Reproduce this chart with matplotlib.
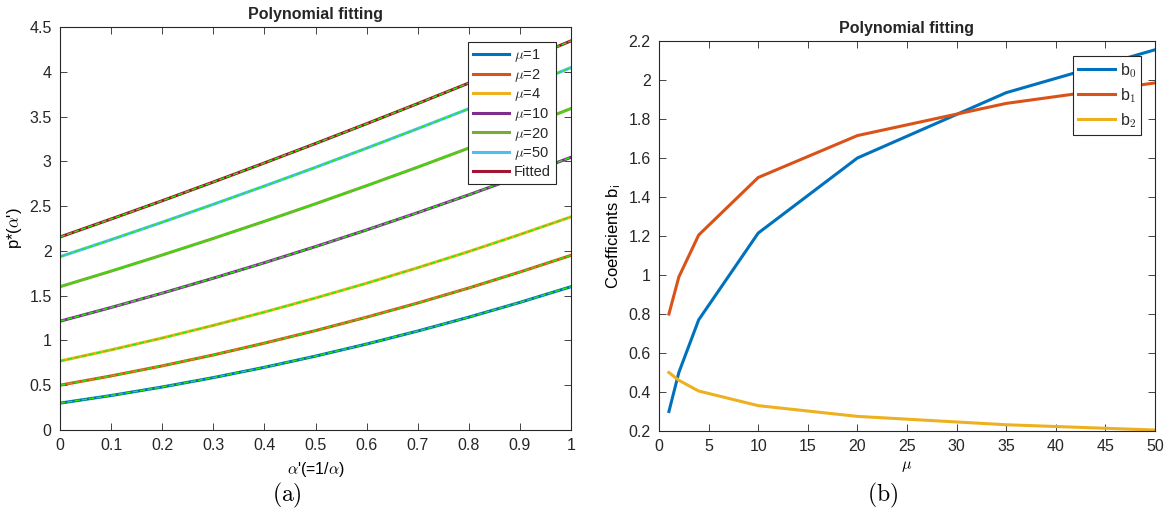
import numpy as np
import matplotlib
matplotlib.use("Agg")
import matplotlib.pyplot as plt
from matplotlib.ticker import FuncFormatter

plt.rcParams["font.family"] = ["Liberation Sans", "DejaVu Sans"]
plt.rcParams["mathtext.fontset"] = "cm"
plt.rcParams["text.color"] = "#262626"
plt.rcParams["axes.edgecolor"] = "#262626"
plt.rcParams["xtick.color"] = "#262626"
plt.rcParams["ytick.color"] = "#262626"

# MATLAB default line colours
COLORS = ["#0072BD", "#D95319", "#EDB120", "#7E2F8E", "#77AC30", "#4DBEEE", "#A2142F"]

# panel (a): p*(alpha') sampled at alpha' = 0, 0.1, ..., 1
alpha_prime = [0.0, 0.1, 0.2, 0.3, 0.4, 0.5, 0.6, 0.7, 0.8, 0.9, 1.0]
p_mu1 = [0.300, 0.385, 0.480, 0.585, 0.700, 0.825, 0.960, 1.105, 1.260, 1.425, 1.600]
p_mu2 = [0.500, 0.604, 0.716, 0.838, 0.970, 1.110, 1.260, 1.418, 1.586, 1.764, 1.950]
p_mu4 = [0.770, 0.895, 1.027, 1.168, 1.317, 1.474, 1.639, 1.812, 1.993, 2.183, 2.380]
p_mu10 = [1.215, 1.368, 1.528, 1.695, 1.868, 2.048, 2.234, 2.427, 2.626, 2.832, 3.045]
p_mu20 = [1.600, 1.774, 1.954, 2.139, 2.330, 2.526, 2.728, 2.935, 3.148, 3.366, 3.590]
p_mu35 = [1.935, 2.125, 2.320, 2.520, 2.724, 2.933, 3.147, 3.365, 3.587, 3.815, 4.047]
p_mu50 = [2.155, 2.356, 2.560, 2.769, 2.982, 3.199, 3.420, 3.645, 3.874, 4.108, 4.345]
curve_labels = [r"$\mu$=1", r"$\mu$=2", r"$\mu$=4", r"$\mu$=10", r"$\mu$=20", r"$\mu$=50", "Fitted"]

# panel (b): fitted coefficients vs mu
mu = [1, 2, 4, 10, 20, 35, 50]
b0 = [0.300, 0.500, 0.770, 1.215, 1.600, 1.935, 2.155]
b1 = [0.800, 0.990, 1.205, 1.500, 1.715, 1.880, 1.985]
b2 = [0.500, 0.460, 0.405, 0.330, 0.275, 0.232, 0.205]

fmt = FuncFormatter(lambda v, _: "%g" % round(v, 6))


def matlab_axes(ax):
    ax.tick_params(direction="in", top=True, right=True, length=5, width=0.6,
                   labelsize=11.5, pad=6)
    for s in ax.spines.values():
        s.set_linewidth(0.8)
    ax.xaxis.set_major_formatter(fmt)
    ax.yaxis.set_major_formatter(fmt)


def boxed_legend(ax, anchor, **kw):
    leg = ax.legend(loc="upper right", bbox_to_anchor=anchor, handletextpad=0.3,
                    fancybox=False, framealpha=1, borderaxespad=0, **kw)
    leg.get_frame().set_edgecolor("#262626")
    leg.get_frame().set_linewidth(0.8)
    return leg


fig = plt.figure(figsize=(11.68, 5.19), dpi=100)
ax1 = fig.add_axes([60 / 1168, 1 - 430 / 519, 511 / 1168, 403 / 519])
ax2 = fig.add_axes([659 / 1168, 1 - 431 / 519, 496 / 1168, 390 / 519])

# (a) curves with the polynomial fits overlaid as thin dashed lines
curves = [p_mu1, p_mu2, p_mu4, p_mu10, p_mu20, p_mu35, p_mu50]
xa = np.array(alpha_prime)
for i, ys in enumerate(curves):
    ax1.plot(xa, ys, color=COLORS[i], lw=2.2, label=curve_labels[i])
for i in range(len(curves)):
    ax1.plot(xa, np.polyval([b2[i], b1[i], b0[i]], xa), color="#22ee00", lw=1.0, ls="--")

ax1.set_xlim(0, 1)
ax1.set_ylim(0, 4.5)
ax1.set_xticks(np.arange(0, 1.01, 0.1))
ax1.set_yticks(np.arange(0, 4.51, 0.5))
matlab_axes(ax1)
ax1.set_title("Polynomial fitting", fontsize=11.5, fontweight="bold", pad=6)
ax1.set_xlabel(r"$\alpha$'(=1/$\alpha$)", fontsize=11.5, labelpad=5)
ax1.set_ylabel(r"p*($\alpha$')", fontsize=12, labelpad=4)
boxed_legend(ax1, (0.9706, 0.9628), fontsize=10.5, handlelength=2.5,
             labelspacing=0.18, borderpad=0.35)

# (b) coefficients
ax2.plot(mu, b0, color=COLORS[0], lw=2.2, label=r"b$_\mathsf{0}$")
ax2.plot(mu, b1, color=COLORS[1], lw=2.2, label=r"b$_\mathsf{1}$")
ax2.plot(mu, b2, color=COLORS[2], lw=2.2, label=r"b$_\mathsf{2}$")
ax2.set_xlim(0, 50)
ax2.set_ylim(0.2, 2.2)
ax2.set_xticks(np.arange(0, 51, 5))
ax2.set_yticks(np.arange(0.2, 2.21, 0.2))
matlab_axes(ax2)
ax2.set_title("Polynomial fitting", fontsize=11.5, fontweight="bold", pad=6)
ax2.set_xlabel(r"$\mu$", fontsize=11.5, labelpad=3)
ax2.set_ylabel(r"Coefficients b$_\mathsf{i}$", fontsize=12, labelpad=4)
boxed_legend(ax2, (0.972, 0.9615), fontsize=11.5, handlelength=2.3,
             labelspacing=0.4, borderpad=0.3)

# panel captions
fig.text(287 / 1168, 1 - 495 / 519, r"$\mathrm{(a)}$", fontsize=17, ha="center", va="center", color="black")
fig.text(883 / 1168, 1 - 495 / 519, r"$\mathrm{(b)}$", fontsize=17, ha="center", va="center", color="black")

fig.savefig("out.png", dpi=100)
